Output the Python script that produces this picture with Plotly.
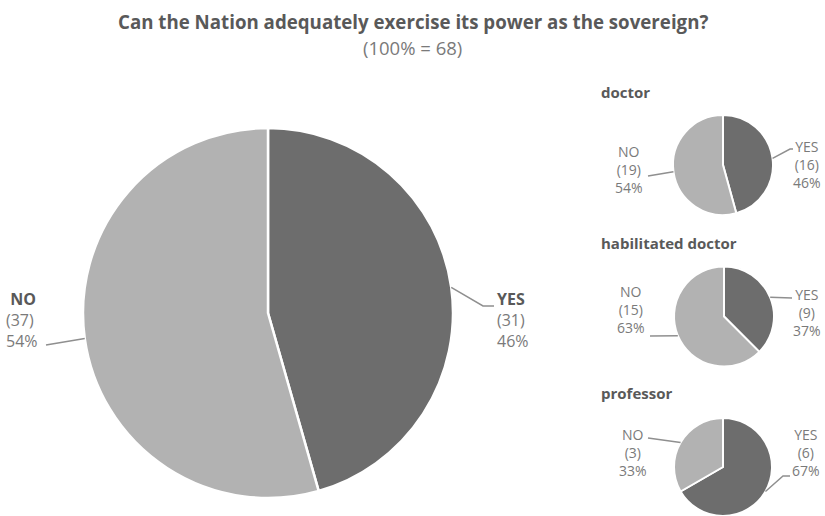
import math
import plotly.graph_objects as go

W, H = 825, 516

title_text = "Can the Nation adequately exercise its power as the sovereign?"
subtitle_text = "(100% = 68)"

answers = ["YES", "NO"]
overall_counts = [31, 37]
overall_pcts = ["46%", "54%"]

groups = ["doctor", "habilitated doctor", "professor"]
group_counts = {
    "doctor": [16, 19],
    "habilitated doctor": [9, 15],
    "professor": [6, 3],
}
group_pcts = {
    "doctor": ["46%", "54%"],
    "habilitated doctor": ["37%", "63%"],
    "professor": ["67%", "33%"],
}

colors = ["#6d6d6d", "#b2b2b2"]
TXT = "#595959"
TXT2 = "#7a7a7a"
LINE = "#8f8f8f"
FONT = "Open Sans"


def px_x(x):
    return x / W


def px_y(y):
    return 1 - y / H


# pie geometry (pixels): center x, center y, radius
geom = {
    "overall": (268, 313, 185),
    "doctor": (723, 165, 50),
    "habilitated doctor": (724, 316.5, 50),
    "professor": (723, 467, 49),
}

fig = go.Figure()


def add_pie(key, counts):
    cx, cy, r = geom[key]
    y0 = max(0, px_y(cy + r))
    y1 = min(1, px_y(cy - r))
    fig.add_trace(go.Pie(
        labels=answers,
        values=counts,
        sort=False,
        direction="clockwise",
        rotation=0,
        textinfo="none",
        hoverinfo="label+value+percent",
        marker=dict(colors=colors, line=dict(color="white", width=2.5 if key == "overall" else 2)),
        domain=dict(x=[px_x(cx - r), px_x(cx + r)], y=[y0, y1]),
        showlegend=False,
    ))


def edge_point(key, counts, idx):
    cx, cy, r = geom[key]
    total = sum(counts)
    start = sum(counts[:idx]) / total * 360
    mid = start + counts[idx] / total * 360 / 2
    a = math.radians(mid)
    return cx + r * math.sin(a), cy - r * math.cos(a)


add_pie("overall", overall_counts)
for g in groups:
    add_pie(g, group_counts[g])

shapes = []
annotations = []


def leader(points):
    path = "M " + " L ".join(f"{px_x(x)},{px_y(y)}" for x, y in points)
    shapes.append(dict(type="path", path=path, xref="paper", yref="paper",
                       line=dict(color=LINE, width=1.5)))


def label(x, y, lines, size, align, bold_first):
    parts = []
    for i, t in enumerate(lines):
        if i == 0 and bold_first:
            parts.append(f"<b>{t}</b>")
        else:
            parts.append(t)
    text = "<br>".join(parts)
    annotations.append(dict(x=px_x(x), y=px_y(y), xref="paper", yref="paper",
                            text=text, showarrow=False, xanchor=align, yanchor="top",
                            align=align, font=dict(family=FONT, size=size, color=TXT2)))


# Title
annotations.append(dict(x=0.5, y=px_y(7), xref="paper", yref="paper", xanchor="center", yanchor="top",
                        text=f"<b>{title_text}</b>", showarrow=False,
                        font=dict(family=FONT, size=18.7, color=TXT)))
annotations.append(dict(x=0.5, y=px_y(33), xref="paper", yref="paper", xanchor="center", yanchor="top",
                        text=subtitle_text, showarrow=False,
                        font=dict(family=FONT, size=18.5, color=TXT2)))

# Main pie labels
yes_e = edge_point("overall", overall_counts, 0)
no_e = edge_point("overall", overall_counts, 1)
leader([yes_e, (483, 306), (494, 306)])
leader([no_e, (46, 345)])
label(495, 286, [f"<span style='color:{TXT}'>YES</span>", f"({overall_counts[0]})", overall_pcts[0]], 16, "left", True)
label(4, 286, [f"<span style='color:{TXT}'>&nbsp;NO</span>", f"({overall_counts[1]})", overall_pcts[1]], 16, "left", True)

# Group titles
title_y = {"doctor": 80, "habilitated doctor": 231, "professor": 381}
for g in groups:
    annotations.append(dict(x=px_x(599), y=px_y(title_y[g]), xref="paper", yref="paper",
                            xanchor="left", yanchor="top", text=f"<b>{g}</b>", showarrow=False,
                            font=dict(family=FONT, size=15, color=TXT)))

SL = 14
# doctor labels
c = group_counts["doctor"]; p = group_pcts["doctor"]
leader([edge_point("doctor", c, 0), (790, 149), (793, 149)])
leader([edge_point("doctor", c, 1), (648, 176)])
label(807, 135, ["YES", f"({c[0]})", p[0]], SL, "center", False)
label(629, 140, ["NO", f"({c[1]})", p[1]], SL, "center", False)

# habilitated doctor labels
c = group_counts["habilitated doctor"]; p = group_pcts["habilitated doctor"]
leader([edge_point("habilitated doctor", c, 0), (792, 298)])
leader([edge_point("habilitated doctor", c, 1), (650, 336)])
label(807, 283, ["YES", f"({c[0]})", p[0]], SL, "center", False)
label(631, 280, ["NO", f"({c[1]})", p[1]], SL, "center", False)

# professor labels
c = group_counts["professor"]; p = group_pcts["professor"]
leader([edge_point("professor", c, 0), (783, 476), (790, 476)])
leader([edge_point("professor", c, 1), (648, 438)])
label(806, 423, ["YES", f"({c[0]})", p[0]], SL, "center", False)
label(633, 423, ["NO", f"({c[1]})", p[1]], SL, "center", False)

fig.update_layout(
    width=W, height=H,
    margin=dict(l=0, r=0, t=0, b=0),
    paper_bgcolor="white",
    plot_bgcolor="white",
    shapes=shapes,
    annotations=annotations,
    font=dict(family=FONT, color=TXT),
)

fig.write_html("out.html", config={"displayModeBar": False},
               post_script="document.body.style.margin='0';document.body.style.overflow='hidden';")
